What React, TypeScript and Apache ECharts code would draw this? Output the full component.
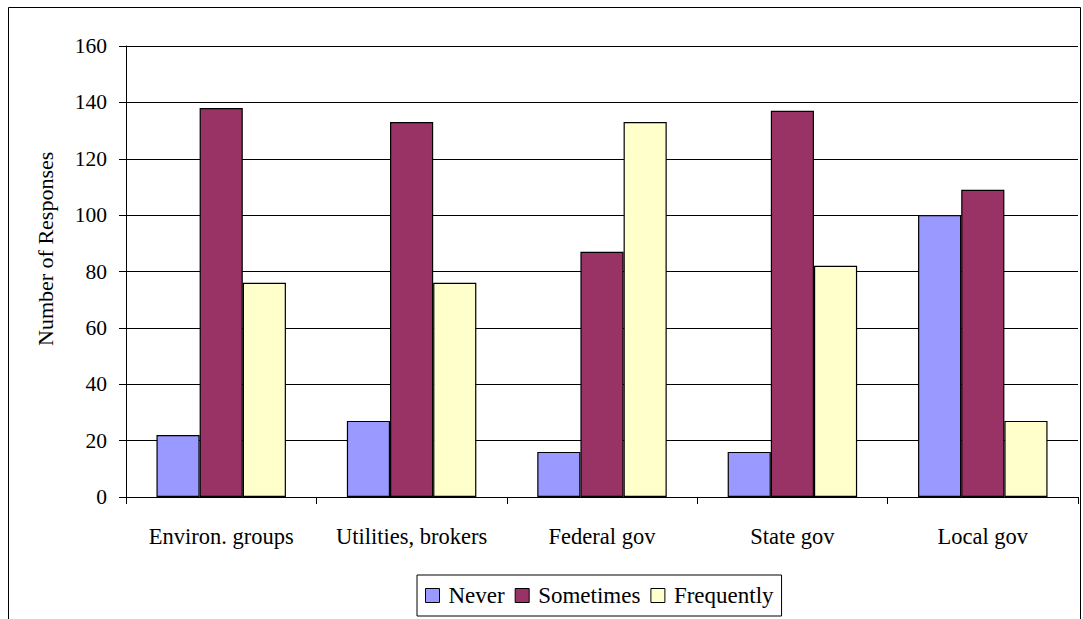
import React, { useEffect, useRef } from "react";
import * as echarts from "echarts";

const categories = ["Environ. groups", "Utilities, brokers", "Federal gov", "State gov", "Local gov"];
const never = [22, 27, 16, 16, 100];
const sometimes = [138, 133, 87, 137, 109];
const frequently = [76, 76, 133, 82, 27];
const seriesNames = ["Never", "Sometimes", "Frequently"];
const colors = ["#9999FF", "#993366", "#FFFFCC"];
const yTitle = "Number of Responses";

const FONT = "Liberation Serif";

export default function App() {
  const ref = useRef<HTMLDivElement>(null);
  useEffect(() => {
    const chart = echarts.init(ref.current!, null, { renderer: "svg" });
    const values = [never, sometimes, frequently];
    chart.setOption({
      animation: false,
      textStyle: { fontFamily: FONT },
      graphic: [
        {
          type: "rect",
          shape: { x: 8.5, y: 7.5, width: 1072, height: 700 },
          style: { fill: "none", stroke: "#000", lineWidth: 1 },
          silent: true,
        },
        {
          type: "text",
          x: 45,
          y: 346,
          rotation: Math.PI / 2,
          style: {
            text: yTitle,
            fontFamily: FONT,
            fontSize: 22,
            fill: "#000",
            textAlign: "left",
            textVerticalAlign: "middle",
          },
          silent: true,
        },
      ],
      grid: { left: 126, right: 5, top: 46, bottom: 122 },
      legend: {
        left: 417,
        top: 575,
        data: seriesNames,
        icon: "rect",
        itemWidth: 14,
        itemHeight: 14,
        itemGap: 10,
        padding: [9, 8, 9, 8],
        borderColor: "#000",
        borderWidth: 1,
        textStyle: { fontFamily: FONT, fontSize: 23, color: "#000", padding: [0, 0, 0, 4] },
        itemStyle: { borderColor: "#000", borderWidth: 1 },
      },
      xAxis: {
        type: "category",
        data: categories,
        axisLine: { lineStyle: { color: "#000", width: 1 } },
        axisTick: { show: true, length: 7, lineStyle: { color: "#000" } },
        axisLabel: { interval: 0, fontFamily: FONT, fontSize: 22.5, color: "#000", margin: 28 },
      },
      yAxis: {
        type: "value",
        min: 0,
        max: 160,
        interval: 20,
        axisLine: { show: true, lineStyle: { color: "#000", width: 1 } },
        axisTick: { show: true, length: 7, lineStyle: { color: "#000" } },
        axisLabel: { fontFamily: FONT, fontSize: 21.5, color: "#000", margin: 19 },
        splitLine: { lineStyle: { color: "#000", width: 1 } },
      },
      series: seriesNames.map((name, i) => ({
        name,
        type: "bar",
        data: values[i],
        barGap: "0%",
        barCategoryGap: "32%",
        itemStyle: { color: colors[i], borderColor: "#000", borderWidth: 1.2 },
      })),
    });
    return () => chart.dispose();
  }, []);
  return (
    <div
      ref={ref}
      style={{ position: "fixed", left: 0, top: 0, width: 1083, height: 619, background: "#fff" }}
    />
  );
}
